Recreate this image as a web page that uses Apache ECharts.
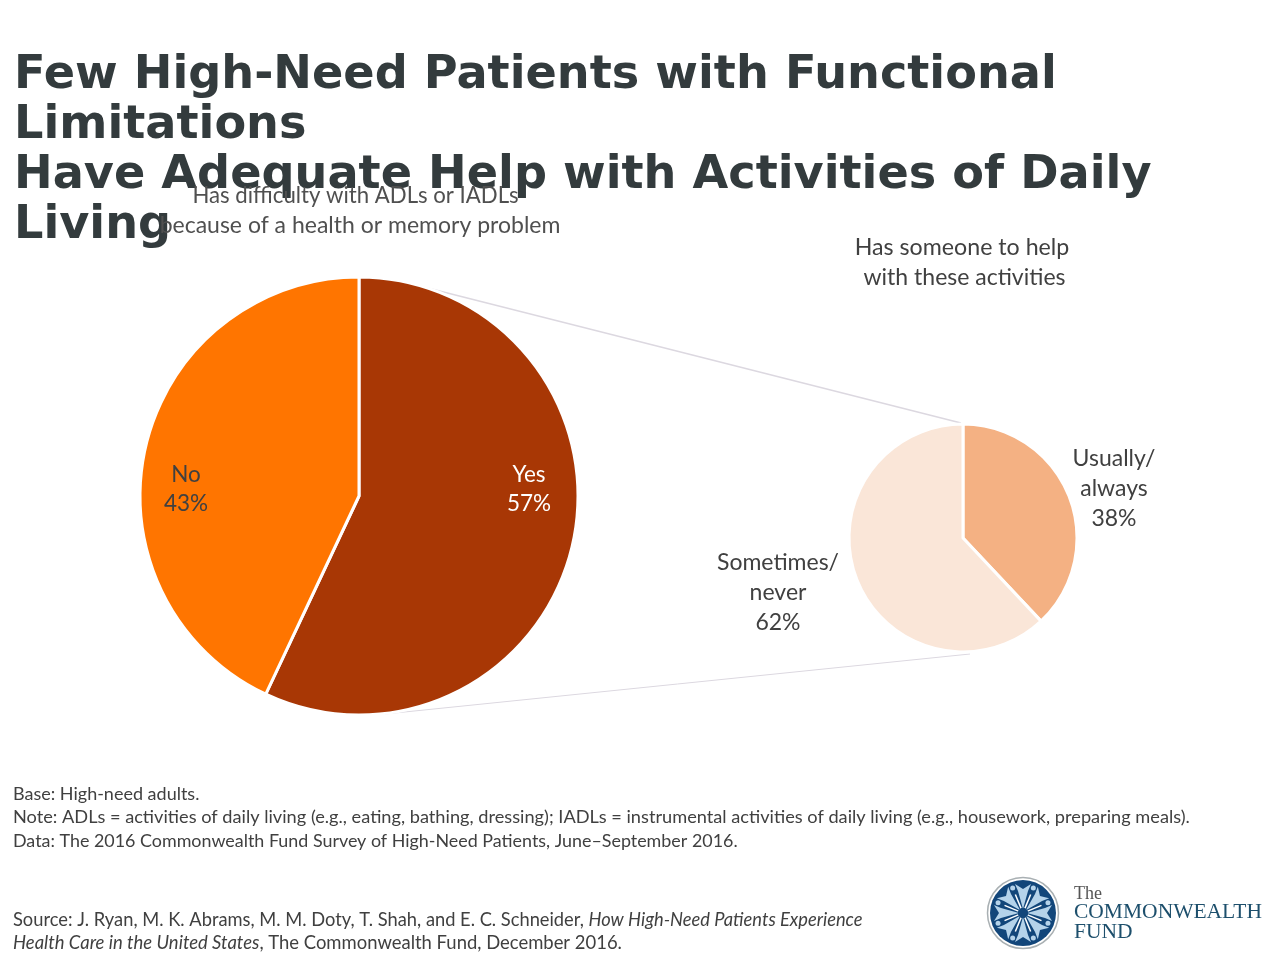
<!DOCTYPE html>
<html><head><meta charset="utf-8">
<style>html,body{margin:0;padding:0;background:#fff}#c{width:1280px;height:960px}</style>
<script src="https://cdn.jsdelivr.net/npm/echarts@6/dist/echarts.min.js"></script>
</head><body><div id="c"></div>
<script>
const mainCats=['Yes','No'];
const mainVals=[57,43];
const subCats=['Usually/\nalways','Sometimes/\nnever'];
const subVals=[38,62];
const titleLines=['Few High-Need Patients with Functional','Limitations','Have Adequate Help with Activities of Daily','Living'];
const leftHead=['Has difficulty with ADLs or IADLs','because of a health or memory problem'];
const rightHead=['Has someone to help','with these activities'];
const notes=['Base: High-need adults.','Note: ADLs = activities of daily living (e.g., eating, bathing, dressing); IADLs = instrumental activities of daily living (e.g., housework, preparing meals).','Data: The 2016 Commonwealth Fund Survey of High-Need Patients, June–September 2016.'];
const tc='#404040';
const g=[];
titleLines.forEach((t,i)=>g.push({type:'text',z:10,x:14,y:76+i*50,style:{text:t,font:'bold 46.2px "DejaVu Sans"',fill:'#333b3d',textVerticalAlign:'middle'}}));
const leftX=[355.5,360],leftSize=[22.2,23];
leftHead.forEach((t,i)=>g.push({type:'text',z:20,x:leftX[i],y:196+i*30,style:{text:t,font:leftSize[i]+'px Lato',fill:'#505050',textAlign:'center',textVerticalAlign:'middle'}}));
const rightX=[962,964.5],rightSize=[23.2,23];
rightHead.forEach((t,i)=>g.push({type:'text',z:20,x:rightX[i],y:248+i*30,style:{text:t,font:rightSize[i]+'px Lato',fill:tc,textAlign:'center',textVerticalAlign:'middle'}}));
const noteSize=[18,18.2,17.9];
notes.forEach((t,i)=>g.push({type:'text',z:20,x:13,y:794+i*23.5,style:{text:t,font:noteSize[i]+'px Lato',fill:'#404040',textVerticalAlign:'middle'}}));
const richA={n:{font:'18.3px Lato',fill:tc},i:{font:'italic 18.3px Lato',fill:tc}};
const richB={n:{font:'18.45px Lato',fill:tc},i:{font:'italic 18.45px Lato',fill:tc}};
g.push({type:'text',x:13,y:920,style:{text:'{n|Source: J. Ryan, M. K. Abrams, M. M. Doty, T. Shah, and E. C. Schneider, }{i|How High-Need Patients Experience}',rich:richA,textVerticalAlign:'middle'}});
g.push({type:'text',x:13,y:943,style:{text:'{i|Health Care in the United States}{n|, The Commonwealth Fund, December 2016.}',rich:richB,textVerticalAlign:'middle'}});
g.push({type:'line',z:1,shape:{x1:400,y1:281,x2:961,y2:423},style:{stroke:'#dcd8e0',lineWidth:1.5}});
g.push({type:'line',z:1,shape:{x1:385,y1:714,x2:970,y2:654},style:{stroke:'#dcd8e0',lineWidth:1}});
// logo
const lx=1023,ly=913;
g.push({type:'circle',shape:{cx:lx,cy:ly,r:35.5},style:{fill:'#fff',stroke:'#a9b0b3',lineWidth:1.5}});
g.push({type:'circle',shape:{cx:lx,cy:ly,r:33},style:{fill:'#12467a'}});
for(let i=0;i<8;i++){const a=i*Math.PI/4+Math.PI/2;
 const c=Math.cos(a),s=Math.sin(a),px=-s,py=c;
 g.push({type:'polygon',shape:{points:[[lx+4*c,ly+4*s],[lx+22*c+5*px,ly+22*s+5*py],[lx+29*c+8*px,ly+29*s+8*py],[lx+24*c,ly+24*s],[lx+29*c-8*px,ly+29*s-8*py],[lx+22*c-5*px,ly+22*s-5*py]]},style:{fill:'#b5d3ea'}});
 const b=a+Math.PI/8;
 g.push({type:'line',shape:{x1:lx+5*Math.cos(b),y1:ly+5*Math.sin(b),x2:lx+20*Math.cos(b),y2:ly+20*Math.sin(b)},style:{stroke:'#fff',lineWidth:1.5}});
 g.push({type:'circle',shape:{cx:lx+27*Math.cos(b),cy:ly+27*Math.sin(b),r:2.5},style:{fill:'#b5d3ea'}});
}
g.push({type:'circle',shape:{cx:lx,cy:ly,r:5},style:{fill:'#12467a'}});
g.push({type:'text',x:1074,y:894,style:{text:'The',font:'18px "Liberation Serif"',fill:'#555',textVerticalAlign:'middle'}});
g.push({type:'text',x:1074,y:912,style:{text:'COMMONWEALTH',font:'21.5px "Liberation Serif"',fill:'#1d4f6c',textVerticalAlign:'middle'}});
g.push({type:'text',x:1074,y:932,style:{text:'FUND',font:'21.5px "Liberation Serif"',fill:'#1d4f6c',textVerticalAlign:'middle'}});
const mainLabelPos=[[529,489],[186,489]];
const subLabelPos=[[1114,489],[778,593]];
const chart=echarts.init(document.getElementById('c'),null,{renderer:'canvas'});
chart.setOption({
 animation:false,
 series:[
 {type:'pie',center:[359,496],radius:[0,219],startAngle:90,clockwise:true,silent:true,
  itemStyle:{borderColor:'#fff',borderWidth:3},
  label:{position:'inside',show:true,formatter:p=>p.name+'\n'+p.value+'%',fontFamily:'Lato',fontSize:22.5,lineHeight:29,align:'center'},
  labelLine:{show:false},
  labelLayout:p=>({x:mainLabelPos[p.dataIndex][0],y:mainLabelPos[p.dataIndex][1],align:'center',verticalAlign:'middle'}),
  data:mainCats.map((n,i)=>({name:n,value:mainVals[i],itemStyle:{color:['#a83705','#ff7500'][i]},label:{color:['#fff','#404040'][i]}}))},
 {type:'pie',center:[963,538],radius:[0,114],startAngle:90,clockwise:true,silent:true,
  itemStyle:{borderColor:'#fff',borderWidth:3},
  label:{show:true,color:tc,position:'inside',formatter:p=>p.name+'\n'+p.value+'%',fontFamily:'Lato',fontSize:23,lineHeight:30,align:'center'},
  labelLine:{show:false},
  labelLayout:p=>({x:subLabelPos[p.dataIndex][0],y:subLabelPos[p.dataIndex][1],align:'center',verticalAlign:'middle'}),
  data:subCats.map((n,i)=>({name:n,value:subVals[i],itemStyle:{color:['#f4b183','#fae6d8'][i]}}))}
 ],
 graphic:g
});
</script></body></html>
